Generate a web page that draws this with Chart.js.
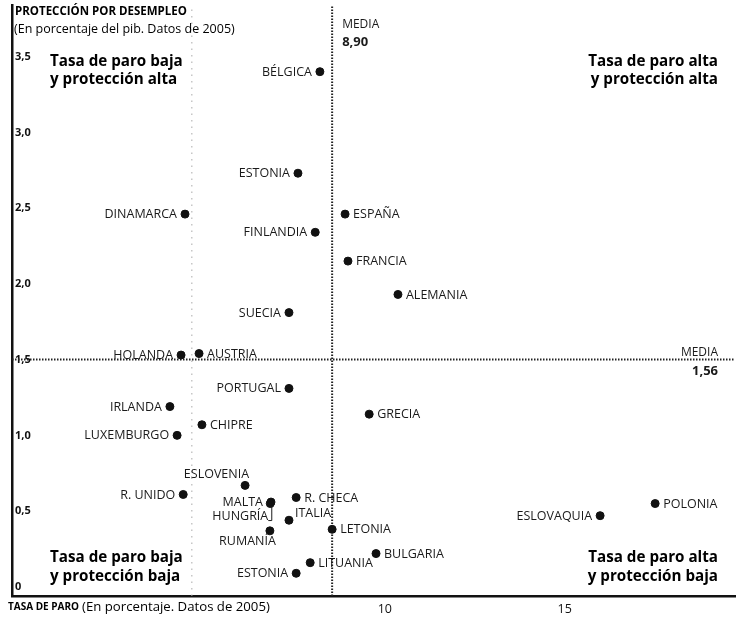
<!DOCTYPE html>
<html><head><meta charset="utf-8">
<script src="https://cdn.jsdelivr.net/npm/chart.js@4.4.1/dist/chart.umd.min.js"></script>
<style>html,body{margin:0;padding:0;background:#fff}#wrap{width:740px;height:617px;position:relative}</style>
</head><body><div id="wrap"><canvas id="c"></canvas></div>
<script>
// ---- data ----
const countries = ['BÉLGICA','ESTONIA','DINAMARCA','ESPAÑA','FINLANDIA','FRANCIA','ALEMANIA','SUECIA','HOLANDA','AUSTRIA','PORTUGAL','IRLANDA','GRECIA','CHIPRE','LUXEMBURGO','ESLOVENIA','R. UNIDO','MALTA','R. CHECA','HUNGRÍA','ITALIA','RUMANÍA','LETONIA','BULGARIA','LITUANIA','ESTONIA','ESLOVAQUIA','POLONIA'];
const unemployment = [8.56,7.95,4.81,9.26,8.43,9.34,10.73,7.70,4.70,5.20,7.70,4.39,9.93,5.28,4.59,6.48,4.76,7.20,7.90,7.18,7.70,7.17,8.90,10.12,8.29,7.90,16.35,17.88];
const protection   = [3.46,2.79,2.52,2.52,2.40,2.21,1.99,1.87,1.59,1.60,1.37,1.25,1.20,1.13,1.06,0.73,0.67,0.62,0.65,0.61,0.50,0.43,0.44,0.28,0.22,0.15,0.53,0.61];
const yTicks = [0,0.5,1,1.5,2,2.5,3,3.5];
const xTicks = [10,15];
const meanUnemployment = 8.90;
const meanProtection = 1.56;
const guideX = 5;
const xMin = 0, xMax = 20.1, yMin = 0, yMax = 3.90;

// ---- label placement (style, not data) ----
const labelSide = ['l','l','l','r','l','r','r','l','l','r','l','l','r','r','l','above','l','l','r','hungria','italia','below','r','r','r','l','l','r'];

const FONT = '"Open Sans", "DejaVu Sans", sans-serif';
const pts = unemployment.map((x,i)=>({x, y: protection[i]}));

const labelsPlugin = {
  id: 'labels',
  afterDatasetsDraw(chart) {
    const ctx = chart.ctx;
    const meta = chart.getDatasetMeta(0);
    const xs = chart.scales.x, ys = chart.scales.y;
    ctx.save();
    ctx.fillStyle = '#1a1a1a';
    ctx.font = '12.5px ' + FONT;
    ctx.textBaseline = 'middle';
    meta.data.forEach((p,i)=>{
      const s = labelSide[i];
      const t = countries[i];
      if (s === 'l') { ctx.textAlign='right'; ctx.fillText(t, p.x-8, p.y+0.5); }
      else if (s === 'r') { ctx.textAlign='left'; ctx.fillText(t, p.x+8, p.y+0.5); }
      else if (s === 'above') { ctx.textAlign='right'; ctx.fillText(t, p.x+4, p.y-11); }
      else if (s === 'below') { ctx.textAlign='right'; ctx.fillText(t, p.x+6, p.y+11); }
      else if (s === 'italia') { ctx.textAlign='left'; ctx.fillText(t, p.x+6, p.y-7); }
      else if (s === 'hungria') {
        ctx.textAlign='right'; ctx.fillText(t, p.x-2, p.y+13);
        ctx.strokeStyle='#1a1a1a'; ctx.lineWidth=1;
        ctx.beginPath(); ctx.moveTo(p.x+1.5, p.y+3); ctx.lineTo(p.x+1.5, p.y+17); ctx.lineTo(p.x-2, p.y+17); ctx.stroke();
      }
    });
    // mean labels
    const mx = xs.getPixelForValue(meanUnemployment);
    const my = ys.getPixelForValue(meanProtection);
    ctx.textAlign = 'left';
    ctx.font = '12px ' + FONT; ctx.fillText('MEDIA', mx+10, 25);
    ctx.font = 'bold 13px ' + FONT; ctx.fillText(meanUnemployment.toFixed(2).replace('.',','), mx+10, 42);
    ctx.textAlign = 'right';
    ctx.font = '12px ' + FONT; ctx.fillText('MEDIA', 718, my-7);
    ctx.font = 'bold 13px ' + FONT; ctx.fillText(meanProtection.toFixed(2).replace('.',','), 718, my+12);
    // quadrant labels
    ctx.fillStyle = '#000';
    ctx.font = 'bold 15.2px ' + FONT;
    ctx.textAlign = 'left';
    ctx.fillText('Tasa de paro baja', 50, 62); ctx.fillText('y protección alta', 50, 80);
    ctx.fillText('Tasa de paro baja', 50, 558); ctx.fillText('y protección baja', 50, 577);
    ctx.textAlign = 'right';
    ctx.fillText('Tasa de paro alta', 718, 62); ctx.fillText('y protección alta', 718, 80);
    ctx.fillText('Tasa de paro alta', 718, 558); ctx.fillText('y protección baja', 718, 577);
    // axis titles
    ctx.textAlign = 'left';
    ctx.font = 'bold 11.5px ' + FONT; ctx.fillText('PROTECCIÓN POR DESEMPLEO', 15, 12);
    ctx.font = '12.5px ' + FONT; ctx.fillText('(En porcentaje del pib. Datos de 2005)', 14, 29);
    ctx.font = 'bold 10px ' + FONT;
    const t1 = 'TASA DE PARO';
    ctx.fillText(t1, 8, 607);
    const w = ctx.measureText(t1).width;
    ctx.font = '13.2px ' + FONT; ctx.fillText('(En porcentaje. Datos de 2005)', 8+w+3, 607);
    ctx.restore();
  }
};

new Chart(document.getElementById('c'), {
  type: 'scatter',
  data: {
    datasets: [
      { data: pts, backgroundColor:'#111', borderColor:'#111', pointRadius:4, pointHoverRadius:4, order:0 },
      { type:'line', data:[{x:meanUnemployment,y:yMin},{x:meanUnemployment,y:yMax}], borderColor:'#222', borderWidth:2, borderDash:[1.5,1.5], pointRadius:0, order:1 },
      { type:'line', data:[{x:xMin,y:meanProtection},{x:xMax,y:meanProtection}], borderColor:'#222', borderWidth:2, borderDash:[1.5,1.5], pointRadius:0, order:1 },
      { type:'line', data:[{x:guideX,y:yMin},{x:guideX,y:yMax}], borderColor:'#aaa', borderWidth:1, borderDash:[1.5,5], pointRadius:0, order:2 }
    ]
  },
  options: {
    responsive: true, maintainAspectRatio: false, animation: false, events: [],
    layout: { padding: { top: 0, right: 5, bottom: 0, left: 0 } },
    plugins: { legend:{display:false}, tooltip:{enabled:false} },
    scales: {
      x: {
        type:'linear', min:xMin, max:xMax,
        grid:{display:false, drawTicks:false},
        border:{display:true, color:'#111', width:2.5},
        afterBuildTicks: s => { s.ticks = xTicks.map(v=>({value:v})); },
        afterFit: s => { s.height = 21; s.paddingLeft = 0; s.paddingRight = 0; },
        ticks:{ align:'start', labelOffset:6, padding:6, color:'#111', font:{family:FONT, size:12.5}, callback: v => String(v) }
      },
      y: {
        type:'linear', min:yMin, max:yMax,
        grid:{display:false, drawTicks:false},
        border:{display:true, color:'#111', width:2.5},
        afterBuildTicks: s => { s.ticks = yTicks.map(v=>({value:v})); },
        afterFit: s => { s.width = 12; s.paddingTop = 0; s.paddingBottom = 0; },
        ticks:{ mirror:true, padding:3, labelOffset:-9, color:'#111', font:{family:FONT, size:11, weight:'bold'},
          callback: v => v === 0 ? '0' : v.toFixed(1).replace('.',',') }
      }
    }
  },
  plugins: [labelsPlugin]
});
</script></body></html>
